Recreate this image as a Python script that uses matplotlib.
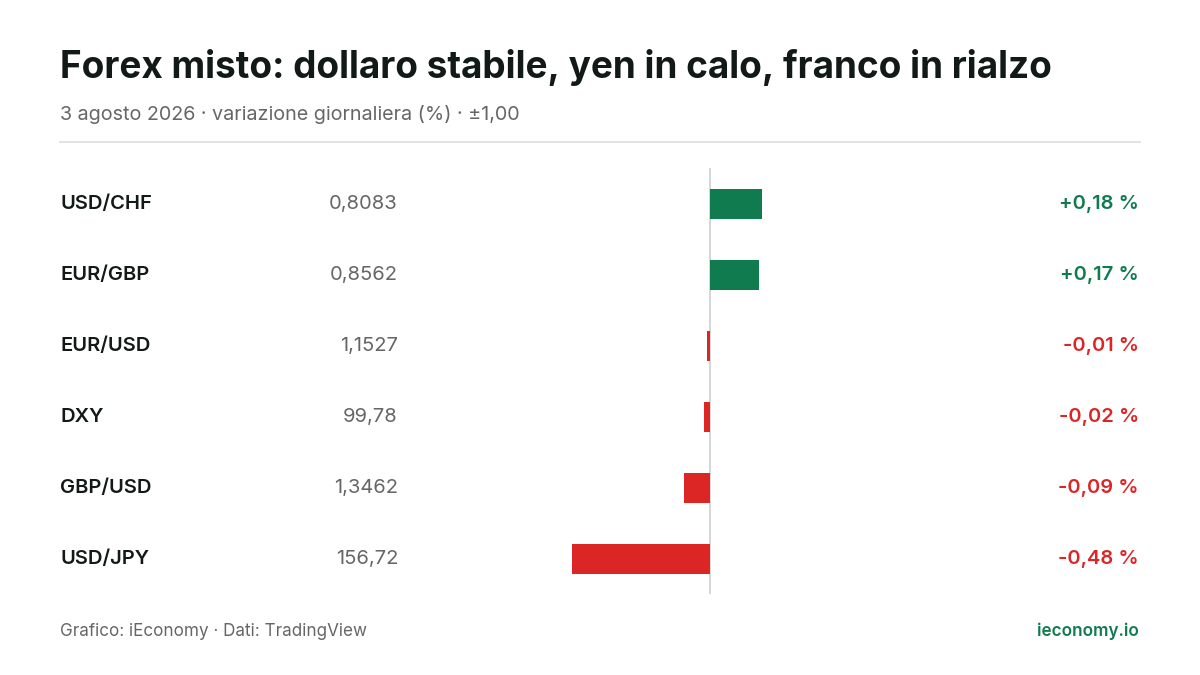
import matplotlib.pyplot as plt

plt.rcParams['font.family'] = ['Inter', 'DejaVu Sans']

pairs = ["USD/CHF", "EUR/GBP", "EUR/USD", "DXY", "GBP/USD", "USD/JPY"]
prices = ["0,8083", "0,8562", "1,1527", "99,78", "1,3462", "156,72"]
changes = [0.18, 0.17, -0.01, -0.02, -0.09, -0.48]

GREEN = "#0f7b4f"
RED = "#dc2626"
W, H = 1200, 675

fig = plt.figure(figsize=(12, 6.75), dpi=100)
fig.patch.set_facecolor("white")

def fx(px):
    return px / W

def fy(py):
    return 1 - py / H

fig.text(fx(60), fy(68), "Forex misto: dollaro stabile, yen in calo, franco in rialzo",
         fontsize=26.6, fontweight="bold", color="#111a16", va="center")
fig.text(fx(60), fy(114), "3 agosto 2026 · variazione giornaliera (%) · ±1,00",
         fontsize=14.2, color="#666666", va="center")
fig.add_artist(plt.Line2D([fx(60), fx(1140)], [fy(142), fy(142)], color="#dddddd", lw=1.2))

ax = fig.add_axes([fx(423), fy(594), fx(997) - fx(423), (594 - 168) / H])
ax.set_xlim(-1, 1)
ax.set_ylim(5.5, -0.5)
ax.axis("off")
ax.axvline(0, color="#d0d0d0", lw=1.2, zorder=1)

colors = [GREEN if c > 0 else RED for c in changes]
ax.barh(range(len(pairs)), changes, height=30 / 71, color=colors, zorder=2)

for i, (p, pr, c) in enumerate(zip(pairs, prices, changes)):
    y = fy(204 + 71 * i)
    fig.text(fx(60), y, p, fontsize=14.5, fontweight="semibold", color="#111a16", va="center")
    fig.text(fx(398), y, pr, fontsize=14.5, color="#666666", va="center", ha="right")
    lab = ("+" if c > 0 else "") + f"{c:.2f}".replace(".", ",") + " %"
    fig.text(fx(1139), y, lab, fontsize=14.5, fontweight="semibold",
             color=GREEN if c > 0 else RED, va="center", ha="right")

fig.text(fx(60), fy(631), "Grafico: iEconomy · Dati: TradingView", fontsize=12.3,
         color="#666666", va="center")
fig.text(fx(1139), fy(631), "ieconomy.io", fontsize=12.3, fontweight="semibold",
         color=GREEN, va="center", ha="right")

fig.savefig("out.png", dpi=100)
